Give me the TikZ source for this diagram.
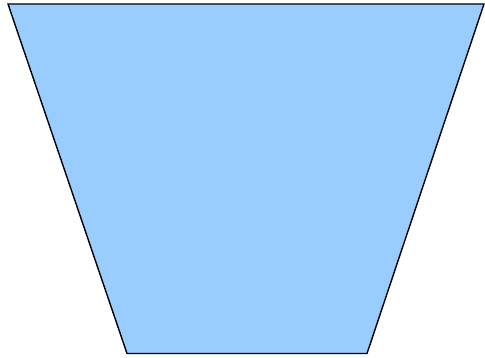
\documentclass[tikz,border=0pt]{standalone}
\usepackage{tikz}
\usepackage{xcolor}
\definecolor{bucketblue}{HTML}{99CCFF}

\begin{document}
\begin{tikzpicture}[x=1pt, y=1pt]
  \useasboundingbox (0,0) rectangle (485,358);
  % trapezoid body
  \draw[line width=1.4pt, fill=bucketblue, line join=miter]
    (8,354) -- (484,354) -- (367,4.5) -- (127,4.5) -- cycle;
\end{tikzpicture}
\end{document}
